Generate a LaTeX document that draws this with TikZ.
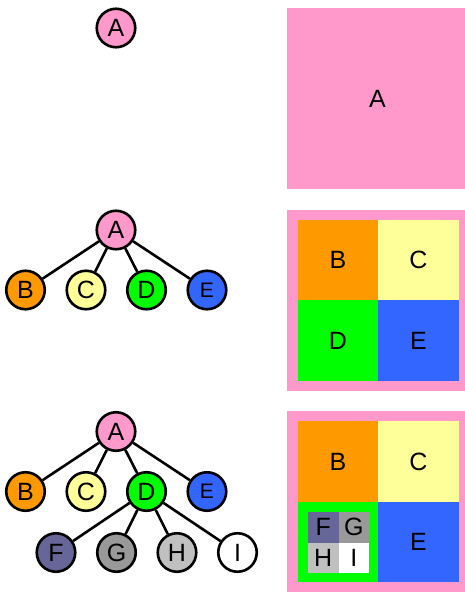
\documentclass[tikz,border=0pt]{standalone}
\usepackage{fontspec}
\setmainfont{Liberation Sans}
\definecolor{colA}{HTML}{FF99CC}
\definecolor{colB}{HTML}{FF9900}
\definecolor{colC}{HTML}{FFFF99}
\definecolor{colD}{HTML}{00FF00}
\definecolor{colE}{HTML}{3366FF}
\definecolor{colF}{HTML}{666699}
\definecolor{colG}{HTML}{999999}
\definecolor{colH}{HTML}{C0C0C0}
\definecolor{colI}{HTML}{FFFFFF}
\tikzset{
  label text/.style={font=\fontsize{25}{25}\selectfont},
  vertex/.style={circle,draw,line width=2.6pt,minimum size=38.5pt,inner sep=0pt,label text},
  small vertex/.style={vertex,font=\fontsize{21}{21}\selectfont}
}
\begin{document}
\begin{tikzpicture}[x=1pt,y=-1pt]
      \useasboundingbox (0,0) rectangle (465,592);
      % trees
      \draw
        (116,28) node[vertex,fill=colA] (A1){A}
        (116,230) node[vertex,fill=colA] (A2){A}
        (25.5,290) node[vertex,fill=colB] (B2){B}
        (86,290) node[vertex,fill=colC] (C2){C}
        (146.5,290) node[vertex,fill=colD] (D2){D}
        (207,290) node[small vertex,fill=colE] (E2){E}
        (116,431.5) node[vertex,fill=colA] (A3){A}
        (25.5,491.5) node[vertex,fill=colB] (B3){B}
        (86,491.5) node[vertex,fill=colC] (C3){C}
        (146.5,491.5) node[vertex,fill=colD] (D3){D}
        (207,491.5) node[small vertex,fill=colE] (E3){E}
        (56,552.5) node[vertex,fill=colF] (F3){F}
        (116.5,552.5) node[vertex,fill=colG] (G3){G}
        (177,552.5) node[vertex,fill=colH] (H3){H}
        (237.5,552.5) node[vertex,fill=colI] (I3){I};
      \begin{scope}[-,line width=2.6pt]
        \draw (A2) to (B2);
        \draw (A2) to (C2);
        \draw (A2) to (D2);
        \draw (A2) to (E2);
        \draw (A3) to (B3);
        \draw (A3) to (C3);
        \draw (A3) to (D3);
        \draw (A3) to (E3);
        \draw (D3) to (F3);
        \draw (D3) to (G3);
        \draw (D3) to (H3);
        \draw (D3) to (I3);
      \end{scope}
      % squares
      \fill[colA] (287,8) rectangle (468,189);
      \node[label text] (sqA1) at (377.5,98.5) {A};
      \fill[colA] (287,210) rectangle (468,391);
      \fill[colB] (298,220) rectangle (378,300);
      \fill[colC] (378,220) rectangle (459,300);
      \fill[colD] (298,300) rectangle (378,381);
      \fill[colE] (378,300) rectangle (459,381);
      \node[label text] (sqB2) at (338,260) {B};
      \node[label text] (sqC2) at (418.5,260) {C};
      \node[label text] (sqD2) at (338,340.5) {D};
      \node[label text] (sqE2) at (418.5,340.5) {E};
      \fill[colA] (287,411) rectangle (468,592);
      \fill[colB] (298,421) rectangle (378,502);
      \fill[colC] (378,421) rectangle (459,502);
      \fill[colD] (298,502) rectangle (378,582);
      \fill[colE] (378,502) rectangle (459,582);
      \fill[colF] (308,512) rectangle (338.5,542.5);
      \fill[colG] (338.5,512) rectangle (369,542.5);
      \fill[colH] (308,542.5) rectangle (338.5,573);
      \fill[colI] (338.5,542.5) rectangle (369,573);
      \node[label text] (sqB3) at (338,461.5) {B};
      \node[label text] (sqC3) at (418.5,461.5) {C};
      \node[label text] (sqE3) at (418.5,542) {E};
      \node[label text] (sqF3) at (323.25,527.25) {F};
      \node[label text] (sqG3) at (353.75,527.25) {G};
      \node[label text] (sqH3) at (323.25,557.75) {H};
      \node[label text] (sqI3) at (353.75,557.75) {I};
    \end{tikzpicture}
\end{document}
